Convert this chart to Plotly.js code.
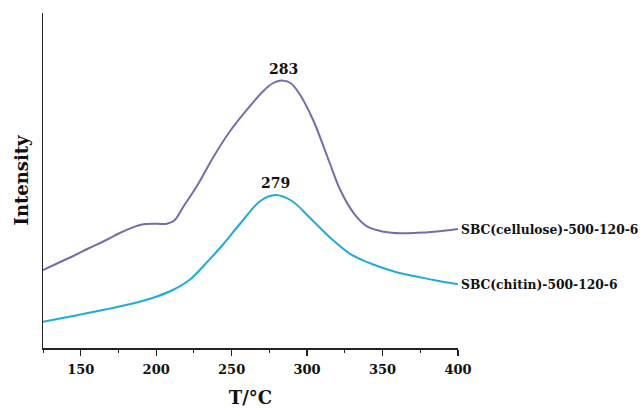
<!DOCTYPE html>
<html>
<head>
<meta charset="utf-8">
<script src="https://cdn.plot.ly/plotly-3.0.1.min.js"></script>
<style>html,body{margin:0;padding:0;background:#fff;}#chart{width:640px;height:408px;}</style>
</head>
<body>
<div id="chart"></div>
<script>
// Temperature (°C) and intensity (arbitrary units)
var tCellulose = [125,135,145,155,167,178,190,200,207,212,218,227,238,249,260,271,277,283,289,295,304,315,322,331,340,351,362,373,384,392,400];
var iCellulose = [78,85,92,99.5,108,116.5,123.3,124.2,124.2,127.5,141.3,162,191.3,217,238,257,264.5,267.5,265,254,228,185,158,134.7,121.3,116.3,114.7,115.2,116.3,117.5,119];

var tChitin = [125,145,167,189,200,211,222,233,244,256,269,279,290,302,317,328,339,351,362,384,400];
var iChitin = [26.3,32,38.7,46.3,51.3,58,68,84.7,103,125,147,153,147,130,108,94.7,86.3,79.7,74.7,68,63.7];

var seriesNames = ['SBC(cellulose)-500-120-6', 'SBC(chitin)-500-120-6'];
var peakT = [283, 279];
var peakI = [267.5, 153];

var font = 'DejaVu Serif, serif';
var purple = '#7b69aa';
var cyan = '#21acd5';

var traces = [
  {x: tCellulose, y: iCellulose, mode: 'lines', line: {color: purple, width: 2, shape: 'spline', smoothing: 1}, name: seriesNames[0], hoverinfo: 'skip'},
  {x: tChitin, y: iChitin, mode: 'lines', line: {color: cyan, width: 2, shape: 'spline', smoothing: 1}, name: seriesNames[1], hoverinfo: 'skip'}
];

var annotations = [
  {x: peakT[0], y: peakI[0], text: String(peakT[0]), showarrow: false, yanchor: 'bottom', yshift: 2, xshift: 2, font: {family: font, size: 14, color: '#111', weight: 'bold'}},
  {x: peakT[1], y: peakI[1], text: String(peakT[1]), showarrow: false, yanchor: 'bottom', yshift: 2, font: {family: font, size: 14, color: '#111', weight: 'bold'}},
  {x: tCellulose[tCellulose.length-1], y: iCellulose[iCellulose.length-1], text: seriesNames[0], showarrow: false, xanchor: 'left', xshift: 1, font: {family: font, size: 12.3, color: '#111', weight: 'bold'}},
  {x: tChitin[tChitin.length-1], y: iChitin[iChitin.length-1], text: seriesNames[1], showarrow: false, xanchor: 'left', xshift: 1, font: {family: font, size: 12.3, color: '#111', weight: 'bold'}}
];

var layout = {
  width: 640, height: 408,
  margin: {l: 43, r: 182, t: 13, b: 60},
  paper_bgcolor: '#fff', plot_bgcolor: '#fff',
  showlegend: false,
  xaxis: {
    range: [125, 400], tick0: 150, dtick: 50,
    showgrid: false, zeroline: false,
    showline: true, linecolor: '#222', linewidth: 1.5,
    ticks: 'outside', ticklen: 6, tickwidth: 1.2, tickcolor: '#222',
    ticklabelstandoff: 3,
    minor: {dtick: 25, tick0: 125, ticks: 'outside', ticklen: 3, tickwidth: 1, tickcolor: '#222', showgrid: false},
    tickfont: {family: font, size: 13, color: '#111', weight: 'bold'},
    title: {text: 'T/°C', font: {family: font, size: 18, color: '#111', weight: 'bold'}, standoff: 30},
    automargin: false
  },
  yaxis: {
    range: [0, 335],
    showgrid: false, zeroline: false,
    showline: true, linecolor: '#222', linewidth: 1.5,
    ticks: '', showticklabels: false,
    title: {text: 'Intensity', font: {family: font, size: 18, color: '#111', weight: 'bold'}, standoff: 8}
  },
  annotations: annotations
};

Plotly.newPlot('chart', traces, layout, {staticPlot: true, displayModeBar: false});
</script>
</body>
</html>
